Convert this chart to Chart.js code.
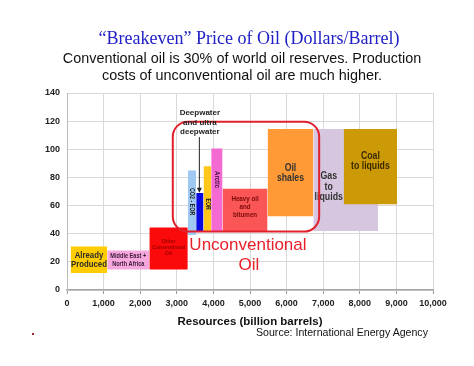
<!DOCTYPE html>
<html><head><meta charset="utf-8">
<script src="https://cdn.jsdelivr.net/npm/chart.js@4/dist/chart.umd.min.js"></script>
<style>
html,body{margin:0;padding:0;background:#fff;width:474px;height:366px;overflow:hidden}
#wrap{position:relative;width:474px;height:366px}
canvas{position:absolute;left:0;top:0}
.t{position:absolute;white-space:nowrap}
</style></head><body>
<div id="wrap">
<canvas id="c" width="474" height="366"></canvas>
<div class="t" style="left:0;width:498px;top:27px;text-align:center;font:18px/22px 'Liberation Serif';color:#2020c6">“Breakeven” Price of Oil (Dollars/Barrel)</div>
<div class="t" style="left:0;width:484px;top:49.5px;text-align:center;font:14.4px/17.7px 'Liberation Sans';color:#111">Conventional oil is 30% of world oil reserves. Production<br>costs of unconventional oil are much higher.</div>
<div class="t" style="left:256px;top:326px;font:10.6px/12px 'Liberation Sans';color:#111">Source: International Energy Agency</div>
<div class="t" style="left:32px;top:333px;width:2px;height:2px;background:#9b2335"></div>
</div>
<script>
// ---- data ----
const sources = ['Already Produced','Middle East + North Africa','Other Conventional Oil','CO2 - EOR','Deepwater and ultra deepwater','EOR','Arctic','Heavy oil and bitumen','Oil shales','Gas to liquids','Coal to liquids'];
const resStart = [100, 1100, 2250, 3300, 3530, 3730, 3940, 4250, 5480, 6730, 7560];
const resEnd   = [1100, 2250, 3300, 3530, 3730, 3940, 4250, 5480, 6730, 8500, 9020];
const costLow  = [12, 14.5, 14.5, 39, 41.5, 41.5, 41.5, 42, 52.5, 42, 61];
const costHigh = [31, 28, 44.5, 85, 69, 88, 100.5, 72, 114.5, 114.5, 114.5];
const xTicks = [0,1000,2000,3000,4000,5000,6000,7000,8000,9000,10000];
const yTicks = [0,20,40,60,80,100,120,140];
const unconvRes = [2890, 6890];
const unconvCost = [41.5, 119.6];

// ---- styles ----
const boxColors = ['#ffcc00','#f6a8dc','#fa0a0a','#9fc9f3','#0a0ae0','#ffc81a','#f46ad2','#fb5656','#ff9a36','#d6c6e0','#cc9a06'];
const labelSpec = [
  {lines:['Already','Produced'], size:9.5, sx:0.82, lh:8.3, at:21.4, color:'#2a2a2a'},
  {lines:['Middle East +','North Africa'], size:6.5, sx:0.86, lh:8, at:21.4, color:'#3a1a3a'},
  {lines:['Other','Conventional','Oil'], size:6, sx:0.86, lh:6, at:30.6, color:'#a00000'},
  {lines:['CO2 - EOR'], size:6.5, sx:0.82, rot:true, at:62.8, color:'#222'},
  null,
  {lines:['EOR'], size:6.5, sx:0.82, rot:true, at:61, color:'#222'},
  {lines:['Arctic'], size:7, sx:0.85, rot:true, at:78.5, color:'#4a1040'},
  {lines:['Heavy oil','and','bitumen'], size:7.5, sx:0.83, lh:8, at:58.8, color:'#7a0a0a'},
  {lines:['Oil','shales'], size:10, sx:0.87, lh:10.3, at:83.2, color:'#333'},
  {lines:['Gas','to','liquids'], size:10, sx:0.88, lh:10.3, at:73.2, atx:7152, color:'#333'},
  {lines:['Coal','to liquids'], size:10, sx:0.87, lh:10.7, at:91.5, color:'#3a2a00'}
];
const n = sources.length;
const datasets = sources.map((s,i)=>({
  label:s,
  data:[{x:resStart[i],y:costHigh[i]},{x:resEnd[i],y:costHigh[i]}],
  fill:{value:costLow[i]},
  backgroundColor:boxColors[i],
  borderColor:'rgba(0,0,0,0)',
  borderWidth:0,
  pointRadius:0,
  pointHoverRadius:0,
  order:n-i
}));

function narrowText(ctx, txt, cx, cy, sx, rot){
  ctx.save(); ctx.translate(cx,cy); if(rot) ctx.rotate(Math.PI/2); ctx.scale(sx,1);
  ctx.fillText(txt,0,0); ctx.restore();
}

const overlay = {
  id:'overlay',
  afterDatasetsDraw(chart){
    const {ctx, scales:{x,y}} = chart;
    ctx.save();
    ctx.textAlign='center'; ctx.textBaseline='middle';
    labelSpec.forEach((sp,i)=>{
      if(!sp) return;
      const cx = sp.atx!==undefined ? x.getPixelForValue(sp.atx) : (x.getPixelForValue(resStart[i])+x.getPixelForValue(resEnd[i]))/2;
      const cy = sp.at!==undefined ? y.getPixelForValue(sp.at) : (y.getPixelForValue(costLow[i])+y.getPixelForValue(costHigh[i]))/2;
      ctx.fillStyle=sp.color;
      ctx.font='bold '+sp.size+"px 'Liberation Sans', Arial";
      if(sp.rot){
        narrowText(ctx, sp.lines[0], cx, cy, sp.sx, true);
      } else {
        const k = sp.lines.length;
        sp.lines.forEach((t,j)=>narrowText(ctx, t, cx, cy+(j-(k-1)/2)*sp.lh, sp.sx, false));
      }
    });
    // unconventional outline
    const l=x.getPixelForValue(unconvRes[0]), r=x.getPixelForValue(unconvRes[1]);
    const t=y.getPixelForValue(unconvCost[1]), b=y.getPixelForValue(unconvCost[0]);
    ctx.strokeStyle='#e0202c'; ctx.lineWidth=2;
    ctx.beginPath(); ctx.roundRect(l,t,r-l,b-t,15); ctx.stroke();
    ctx.fillStyle='#e8202a';
    ctx.font="17px 'Liberation Sans', Arial";
    ctx.fillText('Unconventional', x.getPixelForValue(4944), y.getPixelForValue(32));
    ctx.fillText('Oil', x.getPixelForValue(4970), y.getPixelForValue(17.8));
    // deepwater annotation
    const ax = x.getPixelForValue(3630);
    ctx.fillStyle='#222';
    ctx.font="bold 8px 'Liberation Sans', Arial";
    ctx.fillText('Deepwater', ax, y.getPixelForValue(125.8));
    ctx.fillText('and ultra', ax, y.getPixelForValue(119));
    ctx.fillText('deepwater', ax, y.getPixelForValue(112.3));
    const y0=y.getPixelForValue(108.7), y1=y.getPixelForValue(69.2);
    ctx.strokeStyle='#222'; ctx.lineWidth=1;
    ctx.beginPath(); ctx.moveTo(ax-0.5,y0); ctx.lineTo(ax-0.5,y1-3); ctx.stroke();
    ctx.beginPath(); ctx.moveTo(ax-0.5,y1); ctx.lineTo(ax-3,y1-5); ctx.lineTo(ax+2,y1-5); ctx.closePath(); ctx.fill();
    ctx.restore();
  }
};

new Chart(document.getElementById('c'),{
  type:'line',
  data:{datasets},
  options:{
    responsive:false, animation:false, devicePixelRatio:1,
    layout:{padding:{top:93,right:41,bottom:0,left:0}},
    plugins:{legend:{display:false}, tooltip:{enabled:false}, filler:{propagate:false}},
    scales:{
      x:{type:'linear', min:0, max:10000,
        afterBuildTicks:s=>{s.ticks=xTicks.map(v=>({value:v}));},
        afterFit:s=>{s.height=76;},
        grid:{color:'#d9d9d9', tickLength:4, tickColor:'#999'},
        border:{color:'#a6a6a6', width:1.5},
        ticks:{padding:4, color:'#222', font:{family:"'Liberation Sans', Arial", size:9, weight:'bold'}, maxRotation:0,
          callback:v=>v.toLocaleString('en-US')},
        title:{display:true, text:'Resources (billion barrels)', color:'#111', padding:{top:0,bottom:37},
          font:{family:"'Liberation Sans', Arial", size:11.5, weight:'bold', lineHeight:1.2}}
      },
      y:{type:'linear', min:0, max:140,
        afterBuildTicks:s=>{s.ticks=yTicks.map(v=>({value:v}));},
        afterFit:s=>{s.width=67;},
        grid:{color:'#d9d9d9', drawTicks:false},
        border:{color:'#bbb'},
        ticks:{padding:7, color:'#222', font:{family:"'Liberation Sans', Arial", size:9, weight:'bold'}}
      }
    }
  },
  plugins:[overlay]
});
</script>
</body></html>
